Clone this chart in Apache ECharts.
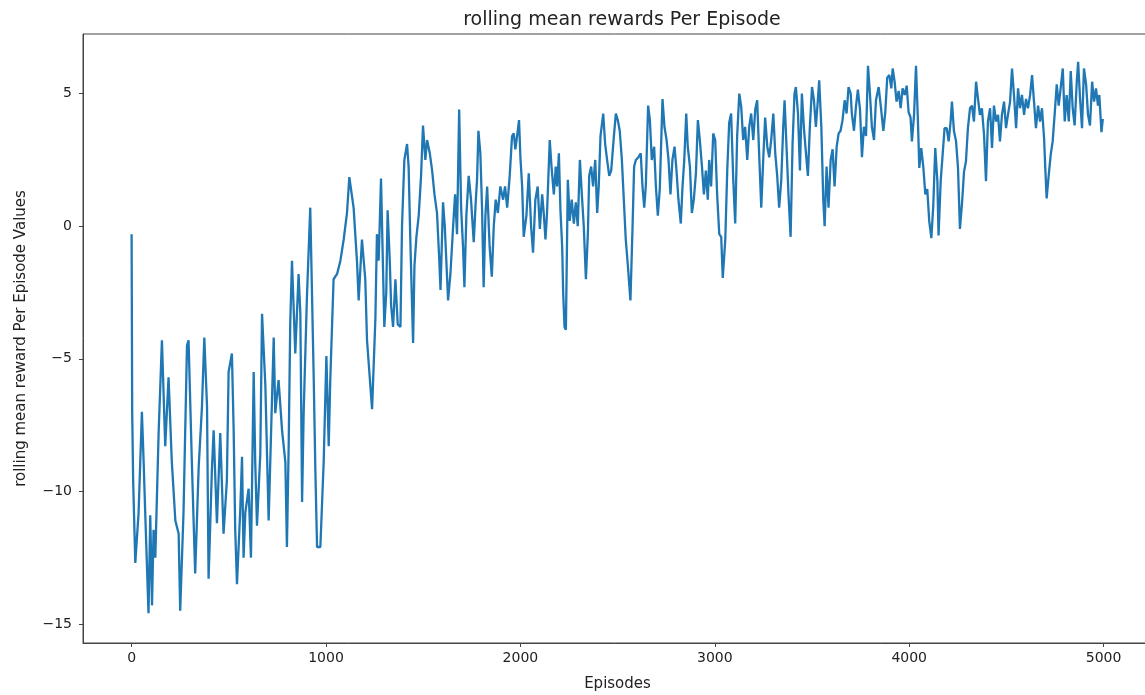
<!DOCTYPE html>
<html>
<head>
<meta charset="utf-8">
<script src="https://cdn.jsdelivr.net/npm/echarts@6/dist/echarts.min.js"></script>
<style>
  html, body { margin: 0; padding: 0; background: #fff; }
  #chart { width: 1145px; height: 695px; }
</style>
</head>
<body>
<div id="chart"></div>
<script>
var episodes = [
  0, 3, 8, 19, 36, 53, 62, 70, 87, 96, 105, 113, 122, 139, 156, 173, 190, 207, 225, 242,
  250, 267, 285, 293, 310, 327, 345, 362, 374, 388, 396, 413, 422, 439, 456, 473, 490, 499, 516, 525,
  533, 542, 559, 568, 576, 585, 602, 614, 628, 636, 645, 662, 671, 688, 705, 731, 739, 756, 774, 791,
  799, 808, 816, 825, 842, 859, 868, 877, 885, 902, 919, 937, 945, 954, 971, 988, 1002, 1014, 1022, 1039,
  1057, 1074, 1091, 1108, 1120, 1142, 1160, 1168, 1185, 1202, 1211, 1237, 1254, 1262,
  1271, 1283, 1293, 1300, 1310, 1317, 1328, 1335, 1345, 1357, 1369, 1383, 1391, 1403, 1417, 1425, 1434, 1448, 1455, 1465,
  1477, 1489, 1499, 1511, 1520, 1534, 1546, 1558, 1571, 1582, 1589, 1602, 1611, 1619, 1628, 1640, 1654, 1664, 1674, 1685,
  1695, 1705, 1712, 1722, 1734, 1746, 1760, 1770, 1777, 1784, 1794, 1803, 1811, 1820, 1829, 1842, 1853, 1863, 1873, 1884,
  1897, 1911, 1921, 1932, 1945, 1957, 1966, 1974, 1983, 1993, 2000, 2009, 2017, 2031, 2043, 2055, 2065, 2077, 2089, 2100,
  2112, 2120, 2129, 2137, 2151, 2160, 2172, 2182, 2189, 2198, 2206, 2215, 2220, 2227, 2234, 2244, 2254, 2264, 2275, 2285,
  2295, 2306, 2316, 2326, 2337, 2347, 2354, 2364, 2374, 2385, 2395, 2403, 2412, 2426, 2436, 2446, 2457, 2467, 2481, 2491,
  2501, 2511, 2522, 2532, 2542, 2553, 2566,
  2577, 2585, 2594, 2607, 2619, 2628, 2637, 2645, 2657, 2666, 2676, 2688, 2697, 2707, 2717, 2731, 2741, 2752, 2762, 2772,
  2782, 2793, 2803, 2813, 2825, 2834, 2843, 2853, 2861, 2872, 2882, 2892, 2903, 2913, 2923, 2934, 2944, 2954, 2964, 2971,
  2981, 2992, 3002, 3012, 3023, 3033, 3041, 3054, 3064, 3074, 3084, 3095, 3105, 3115, 3126, 3136, 3146, 3156, 3167, 3177,
  3187, 3198, 3208, 3218, 3228, 3239, 3249, 3259, 3270, 3280, 3290, 3301, 3311, 3321, 3331, 3342, 3352, 3359, 3369, 3379,
  3390, 3400, 3410, 3417, 3428, 3438, 3448, 3458, 3469, 3479, 3489, 3500, 3510, 3520, 3530, 3537, 3548, 3558, 3565, 3575,
  3585, 3596, 3606, 3616, 3627, 3637, 3647, 3657, 3668, 3678, 3688, 3699, 3705, 3716, 3726, 3736, 3747, 3757, 3767, 3778,
  3788, 3798, 3808, 3819, 3829, 3843,
  3855, 3867, 3877, 3887, 3898, 3908, 3915, 3925, 3935, 3946, 3956, 3966, 3977, 3987, 3997, 4007, 4014, 4025, 4035, 4045,
  4052, 4062, 4073, 4083, 4093, 4103, 4114, 4124, 4134, 4145, 4151, 4162, 4172, 4182, 4193, 4203, 4213, 4220, 4230, 4241,
  4251, 4261, 4272, 4282, 4292, 4302, 4313, 4323, 4333, 4344, 4354, 4364, 4374, 4385, 4395, 4405, 4416, 4426, 4436, 4447,
  4457, 4467, 4477, 4488, 4498, 4508, 4519, 4529, 4539, 4550, 4560, 4570, 4580, 4591, 4601, 4611, 4622, 4632, 4642, 4652,
  4663, 4673, 4683, 4694, 4700, 4707, 4718, 4728, 4738, 4748, 4759, 4769, 4779, 4790, 4800, 4810, 4821, 4831, 4841, 4851,
  4862, 4869, 4879, 4889, 4899, 4910, 4920, 4930, 4941, 4951, 4961, 4971, 4978, 4989, 4996
];

// rolling mean reward at those episodes
var rewards = [
  -0.3, -7.0, -9.6, -12.7, -10.8, -7.0, -8.9, -10.8, -14.6, -10.9, -14.3, -11.45, -12.5, -7.8, -4.3, -8.3, -5.7, -8.9, -11.1, -11.6,
  -14.5, -10.8, -4.5, -4.3, -8.9, -13.1, -9.1, -6.8, -4.2, -6.8, -13.3, -9.2, -7.7, -11.2, -7.8, -11.6, -9.6, -5.5, -4.8, -7.7,
  -11.45, -13.5, -10.7, -8.7, -12.5, -10.8, -9.9, -12.5, -5.5, -8.9, -11.3, -8.6, -3.3, -6.0, -11.1, -4.2, -7.05, -5.8, -7.7, -8.9,
  -12.1, -8.3, -3.7, -1.3, -4.8, -1.8, -3.3, -10.4, -7.05, -2.65, 0.7, -5.8, -9.1, -12.1, -12.1, -8.9, -4.9, -8.3, -5.8, -2.0,
  -1.8, -1.3, -0.5, 0.5, 1.85, 0.7, -1.4, -2.8, -0.5, -2.0, -4.3, -6.9, -3.5, -0.3,
  -1.3, 1.8, -1.5, -3.8, -2.5, 0.6, -1.3, -3.0, -3.8, -2.0, -3.7, -3.8, 0.0, 2.5, 3.1, 2.25, -0.6, -4.4, -1.5, -0.4,
  0.4, 1.9, 3.8, 2.5, 3.25, 2.75, 2.1, 1.2, 0.5, -1.15, -2.4, 0.9, 0.0, -1.3, -2.8, -1.8, 0.0, 1.2, -0.3, 4.4,
  0.7, -0.8, -2.3, 0.4, 1.9, 1.0, -0.6, 0.9, 1.75, 3.6, 2.75, 0.6, -2.3, 0.4, 1.5, -0.8, -1.9, 0.0, 1.0, 0.5,
  1.5, 1.0, 1.5, 0.7, 1.9, 3.4, 3.5, 2.9, 3.4, 4.0, 2.6, 1.5, -0.4, 0.4, 2.0, 0.0, -1.0, 1.0, 1.5, -0.1,
  1.2, 0.5, -0.5, 0.5, 3.25, 2.25, 1.2, 2.25, 1.5, 2.75, 0.6, -0.8, -2.5, -3.8, -3.9, 1.75, 0.2, 1.0, 0.1, 0.9,
  0.0, 2.5, 1.2, 0.0, -2.0, -0.3, 1.9, 2.25, 1.5, 2.5, 0.5, 1.5, 3.4, 4.25, 3.1, 2.5, 1.9, 2.1, 3.4, 4.25,
  4.0, 3.6, 2.5, 1.0, -0.5, -1.5, -2.8,
  0.0, 2.25, 2.5, 2.6, 2.75, 1.5, 0.7, 1.5, 4.55, 4.0, 2.5, 3.0, 1.5, 0.4, 1.4, 4.8, 3.75, 3.25, 2.5, 1.2,
  2.5, 3.0, 2.1, 1.0, 0.1, 1.5, 2.5, 4.25, 3.0, 2.25, 0.5, 1.0, 2.0, 4.0, 3.25, 2.25, 1.2, 2.1, 1.0, 2.5,
  1.5, 3.5, 3.25, 1.2, -0.3, -0.4, -1.95, -0.5, 2.1, 3.9, 4.25, 1.75, 0.1, 3.4, 5.0, 4.5, 3.25, 3.75, 2.5, 3.75,
  4.25, 3.25, 4.4, 4.75, 2.75, 0.7, 2.5, 4.1, 3.0, 2.6, 3.25, 4.25, 2.75, 1.9, 0.7, 1.75, 3.75, 4.75, 3.0, 1.2,
  -0.4, 3.1, 5.0, 5.25, 4.25, 2.1, 5.0, 3.75, 2.75, 1.9, 3.75, 5.25, 4.75, 3.75, 4.75, 5.5, 3.75, 1.0, 0.0, 2.25,
  0.7, 2.5, 2.9, 1.5, 3.0, 3.5, 3.6, 4.0, 4.75, 4.25, 5.25, 5.0, 4.25, 3.6, 4.5, 5.15, 4.4, 2.6, 3.75, 3.4,
  6.05, 5.0, 3.75, 3.25, 4.75, 5.25,
  4.45, 3.6, 4.3, 5.6, 5.7, 5.2, 5.95, 5.45, 4.7, 5.1, 4.45, 5.2, 4.95, 5.3, 4.3, 4.1, 3.2, 4.2, 6.05, 3.95,
  2.2, 2.95, 2.2, 1.2, 1.4, 0.2, -0.45, 0.8, 2.95, 1.7, -0.35, 1.7, 2.7, 3.7, 3.7, 3.2, 3.95, 4.7, 3.6, 3.2,
  2.2, -0.1, 0.9, 2.05, 2.45, 3.7, 4.45, 4.55, 3.95, 5.45, 4.8, 4.2, 4.45, 3.45, 1.7, 3.95, 4.45, 2.95, 4.55, 3.95,
  4.2, 3.2, 4.2, 4.7, 3.7, 4.2, 4.7, 5.95, 4.95, 3.7, 5.2, 4.45, 4.95, 4.2, 4.8, 4.45, 4.95, 5.7, 4.7, 3.7,
  4.55, 3.95, 4.45, 3.3, 2.2, 1.05, 1.95, 2.7, 3.2, 4.2, 5.35, 4.55, 5.2, 5.95, 3.95, 4.95, 3.95, 5.85, 4.45, 3.8,
  5.45, 6.2, 4.8, 3.7, 5.95, 5.35, 4.2, 3.8, 5.45, 4.7, 5.2, 4.55, 4.95, 3.55, 4.05
];

var xTicks = [0, 1000, 2000, 3000, 4000, 5000];
var yTicks = [-15, -10, -5, 0, 5];

var points = episodes.map(function (e, i) { return [e, rewards[i]]; });

var font = 'DejaVu Sans';
var ink = '#222';

var chart = echarts.init(document.getElementById('chart'), null, { renderer: 'canvas' });
chart.setOption({
  animation: false,
  backgroundColor: '#fff',
  title: {
    text: 'rolling mean rewards Per Episode',
    left: 617,
    textAlign: 'center',
    top: 6,
    textStyle: { fontFamily: font, fontSize: 19, fontWeight: 'normal', color: ink }
  },
  grid: {
    left: 83,
    right: -7,
    top: 34,
    bottom: 52,
    containLabel: false,
    outerBoundsMode: 'none',
    show: true,
    borderColor: '#444',
    borderWidth: 1
  },
  xAxis: {
    type: 'value',
    min: -250,
    max: 5249,
    name: 'Episodes',
    nameLocation: 'middle',
    nameGap: 34,
    nameTextStyle: { fontFamily: font, fontSize: 15, color: ink },
    axisLine: { show: true, onZero: false, lineStyle: { color: '#444', width: 1 } },
    axisTick: { show: true, inside: false, length: 4, customValues: xTicks, lineStyle: { color: '#444' } },
    axisLabel: {
      margin: 8,
      customValues: xTicks,
      fontFamily: font,
      fontSize: 14,
      color: ink,
      formatter: function (v) { return String(v); }
    },
    splitLine: { show: false }
  },
  yAxis: {
    type: 'value',
    min: -15.72,
    max: 7.25,
    name: 'rolling mean reward Per Episode Values',
    nameLocation: 'middle',
    nameGap: 54,
    nameTextStyle: { fontFamily: font, fontSize: 15, color: ink },
    axisLine: { show: true, onZero: false, lineStyle: { color: '#444', width: 1 } },
    axisTick: { show: true, inside: false, length: 4, customValues: yTicks, lineStyle: { color: '#444' } },
    axisLabel: {
      margin: 11,
      customValues: yTicks,
      fontFamily: font,
      fontSize: 14,
      color: ink,
      formatter: function (v) { return String(v).replace('-', '\u2212'); }
    },
    splitLine: { show: false }
  },
  series: [
    {
      name: 'rolling mean',
      type: 'line',
      data: points,
      showSymbol: false,
      symbol: 'none',
      lineStyle: { color: '#1f77b4', width: 2.3 },
      itemStyle: { color: '#1f77b4' }
    }
  ]
});
</script>
</body>
</html>
